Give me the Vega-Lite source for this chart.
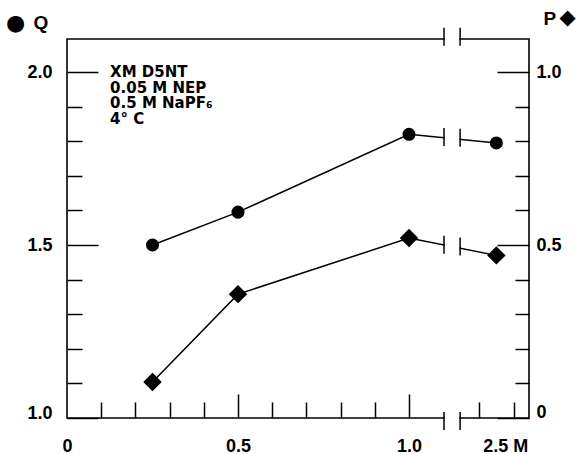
{
  "$schema": "https://vega.github.io/schema/vega-lite/v6.json",
  "width": 462,
  "height": 379,
  "autosize": {"type": "none"},
  "padding": {"left": 67, "top": 39, "right": 47, "bottom": 36},
  "background": "white",
  "config": {"view": {"stroke": "black", "strokeWidth": 1.6}},
  "datasets": {
    "Q": [
      {"conc": 0.25, "Q": 1.50},
      {"conc": 0.5, "Q": 1.595},
      {"conc": 1.0, "Q": 1.82},
      {"conc": 2.5, "Q": 1.795}
    ],
    "P": [
      {"conc": 0.25, "P": 0.104},
      {"conc": 0.5, "P": 0.358},
      {"conc": 1.0, "P": 0.52},
      {"conc": 2.5, "P": 0.47}
    ],
    "gap": [{"conc": 1.51, "conc2": 1.72, "Q": 0.96, "Q2": 2.14}],
    "brk": [
      {"conc": 1.5, "Q": 2.102},
      {"conc": 1.73, "Q": 2.102},
      {"conc": 1.5, "Q": 0.991},
      {"conc": 1.73, "Q": 0.991},
      {"conc": 1.5, "Q": 1.812},
      {"conc": 1.73, "Q": 1.81},
      {"conc": 1.5, "Q": 1.501},
      {"conc": 1.73, "Q": 1.496}
    ],
    "note": [{"conc": 0.126, "Q": 2.019, "label": "XM  D5NT\n0.05 M  NEP\n0.5 M NaPF₆\n4° C"}]
  },
  "resolve": {"scale": {"x": "shared", "y": "independent"}, "axis": {"x": "independent", "y": "independent"}},
  "layer": [
    {
      "data": {"name": "Q"},
      "mark": {"type": "line", "color": "black", "strokeWidth": 1.5},
      "encoding": {
        "x": {"field": "conc", "type": "quantitative",
          "scale": {"domain": [0, 1, 2, 3.44], "range": [0, 342, 412, 462], "nice": false, "zero": false},
          "axis": {"orient": "bottom", "title": null, "values": [0, 0.5, 1, 2.5], "domain": false, "grid": false,
            "tickSize": -24, "tickWidth": 1.5, "tickColor": "black",
            "tickOpacity": {"condition": {"test": "datum.value == 2.5 || datum.value == 0", "value": 0}, "value": 1},
            "labelExpr": "datum.value == 0 ? '0' : (datum.value == 2.5 ? '2.5 M' : format(datum.value, '.1f'))",
            "labelFont": "Liberation Sans", "labelFontSize": 18, "labelFontWeight": "bold", "labelColor": "black",
            "labelPadding": 43, "labelFlush": false, "labelOverlap": false, "labelBaseline": "top",
            "labelOffset": {"condition": {"test": "datum.value == 2.5", "value": 9}, "value": 0}}},
        "y": {"field": "Q", "type": "quantitative",
          "scale": {"domain": [1, 2.0954], "nice": false, "zero": false},
          "axis": {"orient": "left", "values": [1, 1.5, 2], "domain": false, "grid": false,
            "tickSize": -31, "tickWidth": 1.5, "tickColor": "black",
            "format": ".1f",
            "labelFont": "Liberation Sans", "labelFontSize": 18, "labelFontWeight": "bold", "labelColor": "black",
            "labelPadding": 46, "labelOverlap": false, "labelFlush": false,
            "labelOffset": {"condition": {"test": "datum.value == 1", "value": -5}, "value": 0},
            "title": "Q", "titleAngle": 0, "titleAlign": "left", "titleBaseline": "middle",
            "titleX": -34, "titleY": -17, "titleFont": "Liberation Sans", "titleFontSize": 19,
            "titleFontWeight": "bold", "titleColor": "black"}}
      }
    },
    {
      "data": {"name": "P"},
      "mark": {"type": "line", "color": "black", "strokeWidth": 1.5},
      "encoding": {
        "x": {"field": "conc", "type": "quantitative",
          "scale": {"domain": [0, 1, 2, 3.44], "range": [0, 342, 412, 462], "nice": false, "zero": false},
          "axis": {"orient": "bottom", "title": null, "values": [0.1, 0.2, 0.3, 0.4, 0.6, 0.7, 0.8, 0.9, 2, 3],
            "domain": false, "grid": false, "labels": false,
            "tickSize": -16, "tickWidth": 1.5, "tickColor": "black"}},
        "y": {"field": "P", "type": "quantitative",
          "scale": {"domain": [0, 1.0954], "nice": false, "zero": false},
          "axis": {"orient": "right", "values": [0, 0.5, 1], "domain": false, "grid": false,
            "tickSize": -32, "tickWidth": 1.5, "tickColor": "black",
            "labelExpr": "datum.value == 0 ? '0' : format(datum.value, '.1f')",
            "labelFont": "Liberation Sans", "labelFontSize": 18, "labelFontWeight": "bold", "labelColor": "black",
            "labelPadding": 39, "labelOverlap": false, "labelFlush": false,
            "labelOffset": {"condition": {"test": "datum.value == 0", "value": -6}, "value": 0},
            "title": "P", "titleAngle": 0, "titleAlign": "left", "titleBaseline": "middle",
            "titleX": 14, "titleY": -21, "titleFont": "Liberation Sans", "titleFontSize": 19,
            "titleFontWeight": "bold", "titleColor": "black"}}
      }
    },
    {
      "data": {"name": "gap"},
      "mark": {"type": "rect", "fill": "white", "opacity": 1},
      "encoding": {
        "x": {"field": "conc", "type": "quantitative",
          "scale": {"domain": [0, 1, 2, 3.44], "range": [0, 342, 412, 462], "nice": false, "zero": false},
          "axis": null},
        "x2": {"field": "conc2"},
        "y": {"field": "Q", "type": "quantitative",
          "scale": {"domain": [1, 2.0954], "nice": false, "zero": false},
          "axis": {"orient": "left", "values": [1.1, 1.2, 1.3, 1.4, 1.6, 1.7, 1.8, 1.9], "domain": false, "grid": false,
            "labels": false, "tickSize": -15, "tickWidth": 1.5, "tickColor": "black",
            "title": "●", "titleAngle": 0, "titleAlign": "center", "titleBaseline": "middle",
            "titleX": -52, "titleY": -17, "titleFont": "DejaVu Sans", "titleFontSize": 22,
            "titleFontWeight": "normal", "titleColor": "black"}},
        "y2": {"field": "Q2"}
      }
    },
    {
      "data": {"name": "Q"},
      "mark": {"type": "point", "shape": "circle", "filled": true, "size": 170, "color": "black", "opacity": 1},
      "encoding": {
        "x": {"field": "conc", "type": "quantitative",
          "scale": {"domain": [0, 1, 2, 3.44], "range": [0, 342, 412, 462], "nice": false, "zero": false},
          "axis": null},
        "y": {"field": "Q", "type": "quantitative",
          "scale": {"domain": [1, 2.0954], "nice": false, "zero": false}, "axis": null}
      }
    },
    {
      "data": {"name": "P"},
      "mark": {"type": "point", "shape": "diamond", "filled": true, "size": 340, "color": "black", "opacity": 1},
      "encoding": {
        "x": {"field": "conc", "type": "quantitative",
          "scale": {"domain": [0, 1, 2, 3.44], "range": [0, 342, 412, 462], "nice": false, "zero": false},
          "axis": null},
        "y": {"field": "P", "type": "quantitative",
          "scale": {"domain": [0, 1.0954], "nice": false, "zero": false},
          "axis": {"orient": "right", "values": [0.1, 0.2, 0.3, 0.4, 0.6, 0.7, 0.8, 0.9], "domain": false, "grid": false,
            "labels": false, "tickSize": -14, "tickWidth": 1.5, "tickColor": "black",
            "title": "◆", "titleAngle": 0, "titleAlign": "center", "titleBaseline": "middle",
            "titleX": 38, "titleY": -22, "titleFont": "DejaVu Sans", "titleFontSize": 21,
            "titleFontWeight": "normal", "titleColor": "black"}}
      }
    },
    {
      "data": {"name": "brk"},
      "mark": {"type": "tick", "orient": "vertical", "size": 18, "thickness": 1.5, "color": "black", "opacity": 1},
      "encoding": {
        "x": {"field": "conc", "type": "quantitative",
          "scale": {"domain": [0, 1, 2, 3.44], "range": [0, 342, 412, 462], "nice": false, "zero": false},
          "axis": null},
        "y": {"field": "Q", "type": "quantitative",
          "scale": {"domain": [1, 2.0954], "nice": false, "zero": false}, "axis": null}
      }
    },
    {
      "data": {"name": "note"},
      "mark": {"type": "text", "align": "left", "baseline": "top", "font": "DejaVu Sans", "fontWeight": "bold",
        "fontSize": 15, "lineHeight": 15.5, "lineBreak": "\n", "color": "black"},
      "encoding": {
        "x": {"field": "conc", "type": "quantitative",
          "scale": {"domain": [0, 1, 2, 3.44], "range": [0, 342, 412, 462], "nice": false, "zero": false},
          "axis": null},
        "y": {"field": "Q", "type": "quantitative",
          "scale": {"domain": [1, 2.0954], "nice": false, "zero": false}, "axis": null},
        "text": {"field": "label"}
      }
    }
  ]
}
